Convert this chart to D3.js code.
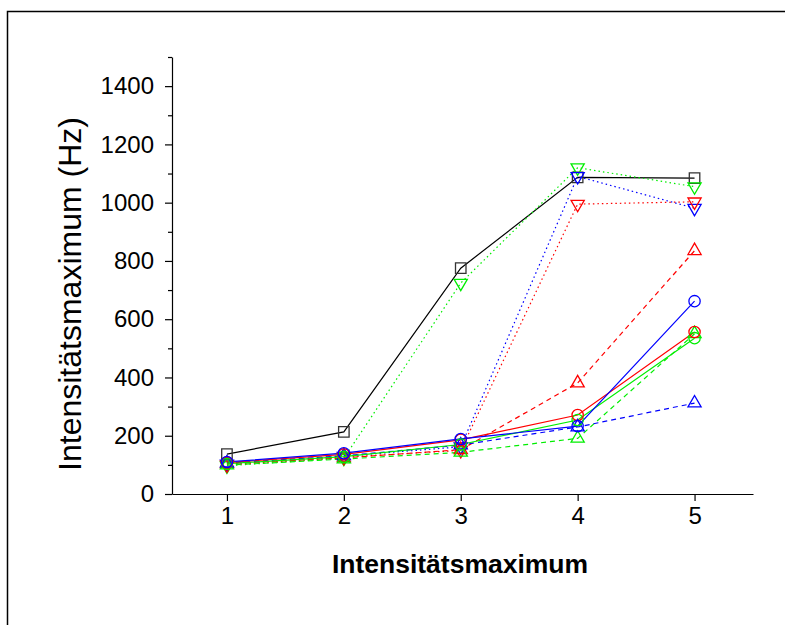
<!DOCTYPE html>
<html><head><meta charset="utf-8">
<script src="https://cdn.jsdelivr.net/npm/d3@7"></script>
<style>body{margin:0;background:#fff}svg{display:block}</style>
</head><body>
<svg id="c" width="785" height="625"></svg>
<script>
const xCats = [1, 2, 3, 4, 5];
const yTicks = [0, 200, 400, 600, 800, 1000, 1200, 1400];
const xTitle = "Intensitätsmaximum";
const yTitle = "Intensitätsmaximum (Hz)";

const sBlackSquare   = [137, 213, 775, 1087, 1084];
const sGreenDown     = [97, 123, 724, 1120, 1055];
const sBlueDown      = [103, 130, 162, 1090, 981];
const sRedDown       = [100, 126, 150, 995, 1003];
const sRedUp         = [104, 124, 152, 381, 835];
const sBlueCircle    = [110, 140, 189, 233, 662];
const sRedCircle     = [108, 136, 186, 271, 556];
const sGreenCircle   = [104, 128, 170, 254, 535];
const sGreenUp       = [99, 120, 143, 191, 550];
const sBlueUp        = [106, 131, 168, 230, 312];

const series = [
  {v: sBlackSquare, c: "#000000", m: "square",   d: null},
  {v: sGreenDown,   c: "#00ee00", m: "down",     d: "1.5,3"},
  {v: sBlueDown,    c: "#0000ff", m: "down",     d: "1.5,3"},
  {v: sRedDown,     c: "#ff0000", m: "down",     d: "1.5,3"},
  {v: sRedUp,       c: "#ff0000", m: "up",       d: "5,4"},
  {v: sGreenUp,     c: "#00ee00", m: "up",       d: "5,4"},
  {v: sBlueUp,      c: "#0000ff", m: "up",       d: "5,4"},
  {v: sGreenCircle, c: "#00ee00", m: "circle",   d: null},
  {v: sRedCircle,   c: "#ff0000", m: "circle",   d: null},
  {v: sBlueCircle,  c: "#0000ff", m: "circle",   d: null}
];

const svg = d3.select("#c");
svg.append("rect").attr("x", 7.5).attr("y", 11.5).attr("width", 800).attr("height", 700)
  .attr("fill", "none").attr("stroke", "#000").attr("stroke-width", 1.5);

const x = d3.scaleLinear().domain([0.53, 5.5]).range([172, 753]);
const y = d3.scaleLinear().domain([0, 1500]).range([494, 57]);

const font = "Liberation Sans, Arial, sans-serif";

const yAx = svg.append("g").attr("transform", "translate(172,0)")
  .call(d3.axisLeft(y).tickValues(yTicks).tickFormat(d3.format("d")).tickSize(7).tickPadding(11).tickSizeOuter(0));
yAx.append("g").call(d3.axisLeft(y).tickValues(d3.range(100, 1600, 200)).tickSize(4).tickFormat("").tickSizeOuter(0))
  .select(".domain").remove();
yAx.selectAll("text").attr("font-family", font).attr("font-size", 24).attr("fill", "#000");
yAx.selectAll("line,path").attr("stroke", "#000").attr("stroke-width", 1.2);

const xAx = svg.append("g").attr("transform", "translate(0,494)")
  .call(d3.axisBottom(x).tickValues(xCats).tickFormat(d3.format("d")).tickSize(7).tickPadding(6).tickSizeOuter(0));
xAx.selectAll("text").attr("font-family", font).attr("font-size", 24).attr("fill", "#000");
xAx.selectAll("line,path").attr("stroke", "#000").attr("stroke-width", 1.2);

svg.append("text").attr("x", 460).attr("y", 573).attr("text-anchor", "middle")
  .attr("font-family", font).attr("font-size", 26.5).attr("font-weight", "bold").text(xTitle);
svg.append("text").attr("transform", "translate(81,294) rotate(-90)").attr("text-anchor", "middle")
  .attr("font-family", font).attr("font-size", 32).text(yTitle);

const line = d3.line().x((d, i) => x(xCats[i])).y(d => y(d));

series.forEach(s => {
  svg.append("path").attr("d", line(s.v)).attr("fill", "none").attr("stroke", s.c)
    .attr("stroke-width", 1.2).attr("stroke-dasharray", s.d);
});
series.forEach(s => {
  const g = svg.append("g");
  s.v.forEach((v, i) => {
    let gen, rot = 0;
    if (s.m === "square") gen = d3.symbol(d3.symbolSquare, 110);
    else if (s.m === "circle") gen = d3.symbol(d3.symbolCircle, 100);
    else { gen = d3.symbol(d3.symbolTriangle, 75); if (s.m === "down") rot = 180; }
    g.append("path").attr("d", gen())
      .attr("transform", `translate(${x(xCats[i])},${y(v)}) rotate(${rot})`)
      .attr("fill", "none").attr("stroke", s.c === "#000000" ? "#333" : s.c).attr("stroke-width", 1.3);
  });
});
</script>
</body></html>
